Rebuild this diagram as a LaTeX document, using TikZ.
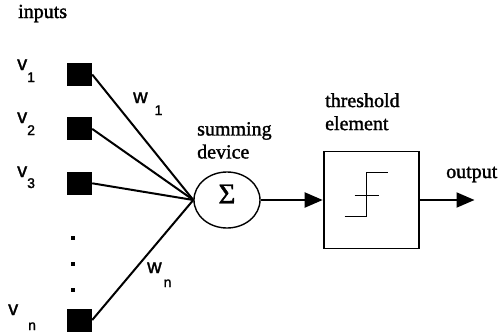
\documentclass[tikz,border=0pt]{standalone}
\usepackage{fontspec}
\setmainfont{Liberation Serif}[BoldFont=Liberation Serif, BoldFeatures={FakeBold=1.5}]
\setsansfont{Liberation Sans}[BoldFont=Liberation Sans, BoldFeatures={FakeBold=1.5}]
\usetikzlibrary{positioning,arrows.meta,shapes.geometric}
\tikzset{
  inp/.style   ={fill=black, inner sep=0pt, minimum width=25pt, minimum height=23pt},
  sumdev/.style={draw, ellipse, line width=1.4pt, inner sep=0pt,
                 minimum width=66pt, minimum height=56pt},
  thresh/.style={draw, line width=1.8pt, inner sep=0pt,
                 minimum width=95pt, minimum height=97pt},
  wire/.style  ={line width=2pt},
  fl/.style    ={-{Triangle[length=18pt,width=15pt]}, line width=2pt},
  lbl/.style   ={font=\bfseries\fontsize{20}{23}\selectfont, inner sep=0pt, align=left},
  var/.style   ={font=\sffamily\bfseries\fontsize{20}{20}\selectfont, inner sep=0pt},
  sig/.style   ={font=\bfseries\fontsize{29}{29}\selectfont, inner sep=0pt},
}
\newcommand{\lowidx}[3]{\hspace*{#1}\raisebox{-#2}{\fontsize{14}{14}\selectfont #3}}

\begin{document}
\begin{tikzpicture}[x=1pt, y=-1pt]
  \useasboundingbox (0,0) rectangle (499,333);

  \node[lbl, anchor=base west](inputs) at (18,18) {inputs};

  % input units
  \node[inp](v1) at (79.5,74.5) {};
  \node[inp, below=31pt of v1](v2) {};
  \node[inp, below=31pt of v2](v3) {};
  \node[inp](vn) at (79.5,320) {};
  \foreach \yy in {238,264,290}
    \fill (70.5,\yy-2) rectangle ++(4,4);

  \node[var, anchor=base west](v1lab) at (17,70)  {v\lowidx{0pt}{12pt}{1}};
  \node[var, anchor=base west](v2lab) at (17,123) {v\lowidx{0pt}{12pt}{2}};
  \node[var, anchor=base west](v3lab) at (17,177) {v\lowidx{0pt}{11pt}{3}};
  \node[var, anchor=base west](vnlab) at (8,315)  {v\lowidx{10pt}{15pt}{n}};

  % summing device
  \node[sumdev, label={[sig, yshift=6pt]center:Σ}](sum) at (227,200) {};
  \node[lbl, anchor=north west](sumlab) at (197,122) {summing\\device};

  \draw[wire](v1.east)--(sum.west);
  \draw[wire](v2.east)--(sum.west);
  \draw[wire](v3.east)--(sum.west);
  \draw[wire](vn.east)--(sum.west);
  \node[var, anchor=base west](w1lab) at (133,103) {w\lowidx{7pt}{12pt}{1}};
  \node[var, anchor=base west](wnlab) at (147,273) {w\lowidx{2pt}{14pt}{n}};

  % threshold element
  \node[thresh, right=62pt of sum](thr) {};
  \node[lbl, anchor=north west](thrlab) at (325,93) {threshold\\element};
  \draw[line width=1.6pt, shift={(thr.center)}]
    (-26.5,16.5) -- (-4.5,16.5) -- (-4.5,-27.5) -- (16.5,-27.5)
    (-16.5,-4.5) -- (7.5,-4.5);

  \coordinate[right=55pt of thr.east](out);
  \node[lbl, anchor=base west](outlab) at (446,178) {output};

  \draw[fl](sum.east)--(sum.east -| thr.west);
  \draw[fl](thr.east)--(out);
\end{tikzpicture}
\end{document}
